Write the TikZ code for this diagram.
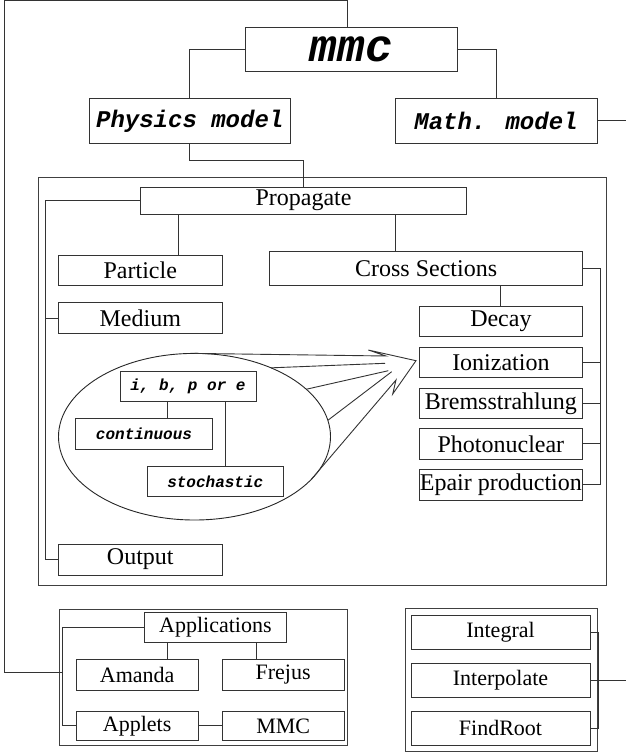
\documentclass[tikz,border=0pt]{standalone}
\usepackage{fontspec}
\setmainfont{Liberation Serif}
\newfontfamily\courfont{Liberation Mono}
\usetikzlibrary{shapes.geometric}
\begin{document}
\begin{tikzpicture}[x=1pt,y=-1pt,
  lnk/.style={draw=black!80, line width=0.9pt},
  frame/.style={draw=black!75, line width=0.9pt, inner sep=0pt, outer sep=0pt},
  box/.style={draw=black!80, line width=0.9pt, inner sep=0pt, outer sep=0pt, text=black, font=\fontsize{24}{28}\selectfont},
  sbox/.style={box, font=\fontsize{22}{26}\selectfont},
  cbox/.style={box, font=\courfont\bfseries\itshape\fontsize{24}{28}\selectfont},
  tbox/.style={box, font=\courfont\bfseries\itshape\fontsize{16}{19}\selectfont}]
\useasboundingbox (0,0) rectangle (626,753);
% frames
\node[frame, minimum width=568.1pt, minimum height=408pt] (big) at (322.45,381) {};
\node[frame, minimum width=288pt, minimum height=136pt] (appframe) at (203,677) {};
\node[frame, minimum width=192pt, minimum height=143.4pt] (mathframe) at (501,680) {};
% top
\node[box, minimum width=211.3pt, minimum height=44.4pt, font=\courfont\bfseries\itshape\fontsize{46}{50}\selectfont] (mmc) at (351.3,49.5) {mmc};
\node[cbox, minimum width=200.5pt, minimum height=45pt] (phys) at (189.75,120.8) {Physics model};
\node[cbox, minimum width=202pt, minimum height=45pt] (math) at (496,120.8) {Math. model};
% big box content
\node[box, minimum width=326.4pt, minimum height=26.7pt] (prop) at (303.5,200.65) {Propagate};
\node[box, minimum width=163.6pt, minimum height=30.7pt] (part) at (140.3,270.35) {Particle};
\node[box, minimum width=313.1pt, minimum height=34.7pt] (cross) at (426.15,268.35) {Cross Sections};
\node[box, minimum width=163.6pt, minimum height=30.6pt] (med) at (140.3,318) {Medium};
\node[box, minimum width=163.6pt, minimum height=31pt] (outp) at (140.3,559.5) {Output};
\node[box, minimum width=163.6pt, minimum height=30.7pt] (decay) at (500.9,321.35) {Decay};
\node[box, minimum width=163.6pt, minimum height=30pt] (ion) at (500.9,362.3) {Ionization};
\node[box, minimum width=163.6pt, minimum height=30pt] (brems) at (500.9,403.3) {Bremsstrahlung};
\node[box, minimum width=163.6pt, minimum height=31pt] (photo) at (500.9,443.8) {Photonuclear};
\node[box, minimum width=163.6pt, minimum height=30.7pt] (epair) at (500.9,484.65) {Epair production};
% ellipse
\node[draw=black!85, line width=0.9pt, ellipse, inner sep=0pt, outer sep=0pt, minimum width=272pt, minimum height=166.6pt] (ell) at (194.5,436.7) {};
\node[tbox, minimum width=136pt, minimum height=30.7pt] (ibpe) at (188,386.35) {i, b, p or e};
\node[tbox, minimum width=136.6pt, minimum height=31pt] (cont) at (144,433.8) {continuous};
\node[tbox, minimum width=136pt, minimum height=30.7pt] (stoch) at (215.3,481.35) {stochastic};
% bottom left
\node[sbox, minimum width=142.7pt, minimum height=30.4pt] (appl) at (215.35,627.5) {Applications};
\node[sbox, minimum width=122.3pt, minimum height=30.7pt] (amanda) at (137.15,674.65) {Amanda};
\node[sbox, minimum width=121.7pt, minimum height=30.7pt] (frejus) at (283.15,674.65) {Frejus};
\node[sbox, minimum width=122.3pt, minimum height=29.7pt] (applets) at (137.15,725.85) {Applets};
\node[sbox, minimum width=121.7pt, minimum height=29.7pt] (mmcb) at (283.15,725.85) {MMC};
% bottom right
\node[sbox, minimum width=179pt, minimum height=34.3pt] (integ) at (500.5,632.15) {Integral};
\node[sbox, minimum width=179pt, minimum height=34pt] (interp) at (500.5,680.3) {Interpolate};
\node[sbox, minimum width=179pt, minimum height=33.3pt] (findr) at (500.5,728.35) {FindRoot};
% coordinates
\coordinate (mmctop) at ([xshift=-3.6pt]mmc.north);
\coordinate (tl) at (4,0.8);
\coordinate (ap) at (62.7,672.3);
\coordinate (j1) at (0,160);
\coordinate (re1) at (626,120.8);
\coordinate (re2) at (626,680.3);
\coordinate (pl) at (45.2,0);
\coordinate (rb) at (600,0);
\coordinate (mb) at (598.8,0);
\coordinate (pp1) at ([xshift=38pt]part.north);
\coordinate (pc1) at ([xshift=-30.25pt]cross.north);
\coordinate (ic) at ([xshift=-20.3pt]ibpe.south);
\coordinate (is) at ([xshift=37.8pt]ibpe.south);
\coordinate (aa) at ([xshift=30.5pt]amanda.north);
\coordinate (af) at ([xshift=-26.6pt]frejus.north);
\coordinate (hA) at (386,356);
\coordinate (hU) at (368.3,350);
\coordinate (hT) at (416,360.7);
\coordinate (hL) at (392.7,394);
\coordinate (hN) at (396,380);
\coordinate (hb) at (385,363.3);
\coordinate (hc) at (388.3,370.7);
\coordinate (hd) at (391.7,371.7);
% connectors top
\draw[lnk] (mmctop) |- (tl) |- (ap);
\draw[lnk] (mmc.west) -| (phys.north);
\draw[lnk] (mmc.east) -| (math.north);
\draw[lnk] (math.east) -- (re1);
\draw[lnk] (phys.south) |- (j1 -| prop.north) -- (prop.north);
% propagate
\draw[lnk] (prop.west) -- (prop.west -| pl) |- (outp.west);
\draw[lnk] (med.west) -- (med.west -| pl);
\draw[lnk] (pp1) -- (pp1 |- prop.south);
\draw[lnk] (pc1) -- (pc1 |- prop.south);
\draw[lnk] (cross.south -| decay.north) -- (decay.north);
\draw[lnk] (cross.east) -- (cross.east -| rb) |- (epair.east);
\draw[lnk] (ion.east) -- (ion.east -| rb);
\draw[lnk] (brems.east) -- (brems.east -| rb);
\draw[lnk] (photo.east) -- (photo.east -| rb);
% ellipse internals
\draw[lnk] (ic) -- (ic |- cont.north);
\draw[lnk] (is) -- (is |- stoch.north);
% big arrow
\draw[lnk, line join=miter] (ell.north) -- (hA) -- (hU) -- (hT) -- (hL) -- (hN) -- (ell.-20);
\draw[lnk] (ell.42) -- (hb);
\draw[lnk] (ell.23) -- (hc);
\draw[lnk] (ell.7) -- (hd);
% bottom left
\draw[lnk] (appl.west) -| (ap) |- (applets.west);
\draw[lnk] (aa) -- (aa |- appl.south);
\draw[lnk] (af) -- (af |- appl.south);
\draw[lnk] (applets.east) -- (mmcb.west);
% bottom right
\draw[lnk] (integ.east) -- (integ.east -| mb) |- (findr.east);
\draw[lnk] (interp.east) -- (re2);
\end{tikzpicture}
\end{document}
